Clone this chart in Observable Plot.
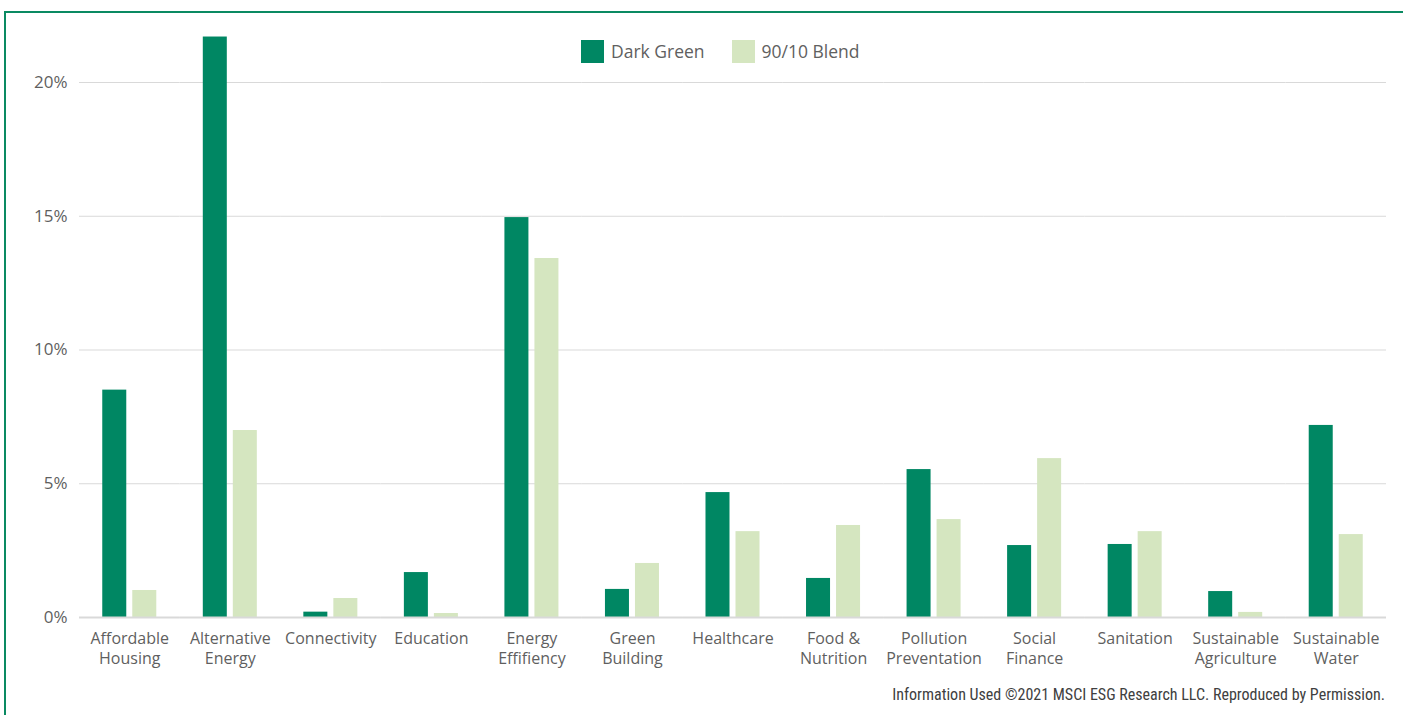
<!DOCTYPE html>
<html>
<head>
<meta charset="utf-8">
<script src="https://cdn.jsdelivr.net/npm/d3@7"></script>
<script src="https://cdn.jsdelivr.net/npm/@observablehq/plot@0.6"></script>
<style>
  html, body { margin: 0; padding: 0; background: #fff; }
  #wrap { position: relative; width: 1403px; height: 715px; overflow: hidden; font-family: "Open Sans", "Noto Sans", sans-serif; }
  #frame { position: absolute; left: 4px; top: 11px; width: 1500px; height: 800px; border-left: 2px solid #0a8a62; border-top: 2px solid #0a8a62; }
  #chart { position: absolute; left: 0; top: 0; }
  #legend { position: absolute; top: 39px; left: 581px; display: flex; align-items: center; font-size: 17.5px; color: #606060; }
  #legend .sw { width: 23px; height: 23px; display: inline-block; margin-right: 7px; }
  #legend .item { display: flex; align-items: center; margin-right: 27px; }
  #caption { position: absolute; right: 18px; top: 685px; font-family: "Liberation Sans Narrow", "Roboto Condensed", sans-serif; font-size: 16px; color: #404040; white-space: nowrap; }
</style>
</head>
<body>
<div id="wrap">
  <div id="frame"></div>
  <div id="chart"></div>
  <div id="legend"></div>
  <div id="caption">Information Used ©2021 MSCI ESG Research LLC. Reproduced by Permission.</div>
</div>
<script>
const categories = ["Affordable Housing", "Alternative Energy", "Connectivity", "Education", "Energy Effifiency", "Green Building", "Healthcare", "Food & Nutrition", "Pollution Preventation", "Social Finance", "Sanitation", "Sustainable Agriculture", "Sustainable Water"];
const categoryLabels = ["Affordable\nHousing", "Alternative\nEnergy", "Connectivity", "Education", "Energy\nEffifiency", "Green\nBuilding", "Healthcare", "Food &\nNutrition", "Pollution\nPreventation", "Social\nFinance", "Sanitation", "Sustainable\nAgriculture", "Sustainable\nWater"];
const seriesNames = ["Dark Green", "90/10 Blend"];
const seriesColors = ["#008763", "#d5e6c0"];
const darkGreen = [8.5, 21.7, 0.2, 1.68, 14.95, 1.05, 4.67, 1.46, 5.53, 2.69, 2.73, 0.97, 7.18];
const blend = [1.01, 6.99, 0.71, 0.15, 13.42, 2.02, 3.21, 3.44, 3.66, 5.94, 3.21, 0.19, 3.10];
const yTicks = [0, 5, 10, 15, 20];

const data = [];
categories.forEach((c, i) => {
  data.push({category: c, series: seriesNames[0], value: darkGreen[i]});
  data.push({category: c, series: seriesNames[1], value: blend[i]});
});
const labelOf = Object.fromEntries(categories.map((c, i) => [c, categoryLabels[i]]));

const chart = Plot.plot({
  width: 1403,
  height: 685,
  marginLeft: 79,
  marginRight: 17,
  marginTop: 28.5,
  marginBottom: 68,
  style: {fontFamily: "'Open Sans', 'Noto Sans', sans-serif", fontSize: "16px", color: "#5f5f5f", background: "transparent"},
  fx: {domain: categories, padding: 0, round: false, label: null, axis: null},
  x: {domain: seriesNames, paddingInner: 0.2, paddingOuter: 0.775, round: false, axis: null},
  y: {domain: [0, 22], ticks: yTicks, axis: null, label: null},
  color: {domain: seriesNames, range: seriesColors},
  marks: [
    Plot.gridY(yTicks, {stroke: "#d9d9d9", strokeOpacity: 1, strokeWidth: 1}),
    Plot.barY(data, {fx: "category", x: "series", y: "value", fill: "series"}),
    Plot.ruleY([0], {stroke: "#d9d9d9", strokeWidth: 2}),
    Plot.axisY(yTicks, {tickSize: 0, tickPadding: 12, tickFormat: d => d + "%", fontSize: 17, fill: "#5f5f5f", label: null}),
    Plot.axisFx({anchor: "bottom", tickSize: 0, tickPadding: 13, tickFormat: d => labelOf[d], fontSize: 16, lineHeight: 1.22, fill: "#5f5f5f", label: null})
  ]
});
document.getElementById("chart").appendChild(chart);

const legend = document.getElementById("legend");
seriesNames.forEach((s, i) => {
  const item = document.createElement("div");
  item.className = "item";
  const sw = document.createElement("span");
  sw.className = "sw";
  sw.style.background = seriesColors[i];
  const t = document.createElement("span");
  t.textContent = s;
  item.appendChild(sw);
  item.appendChild(t);
  legend.appendChild(item);
});
</script>
</body>
</html>
